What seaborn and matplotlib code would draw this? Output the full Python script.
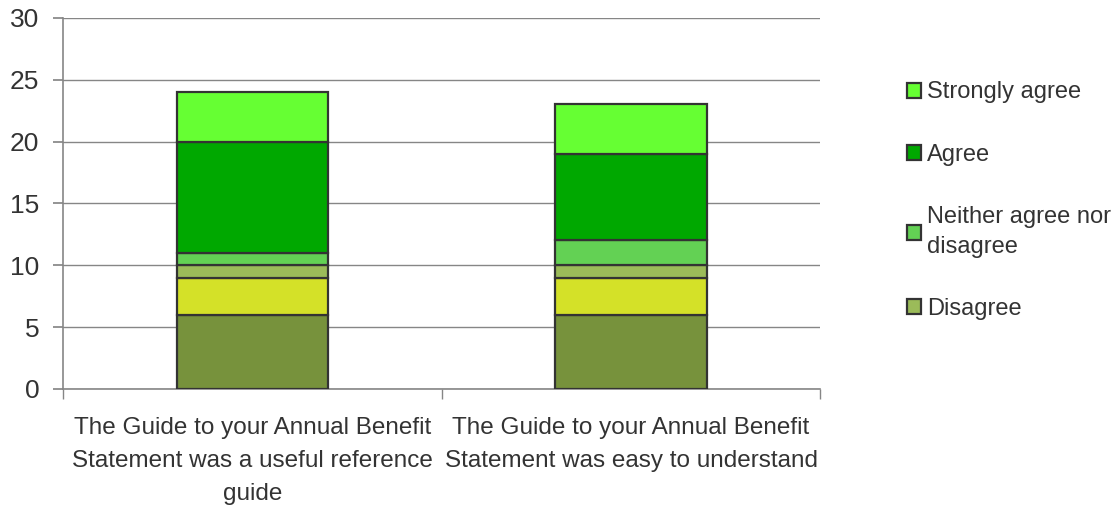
import pandas as pd
import matplotlib.pyplot as plt
import seaborn as sns
from matplotlib.ticker import FixedLocator

# --- data ---
questions = [
    "The Guide to your Annual Benefit\nStatement was a useful reference\nguide",
    "The Guide to your Annual Benefit\nStatement was easy to understand",
]
# bottom-to-top stacking order
segments = ["Strongly disagree", "Don't know", "Disagree",
            "Neither agree nor\ndisagree", "Agree", "Strongly agree"]
strongly_disagree = [6, 6]
dont_know = [3, 3]
disagree = [1, 1]
neither = [1, 2]
agree = [9, 7]
strongly_agree = [4, 4]

SEGMENT_COLORS = ["#77923C", "#D4E128", "#9BBB59", "#63D154", "#00A800", "#66FF33"]
LEGEND_ITEMS = ["Strongly agree", "Agree", "Neither agree nor\ndisagree", "Disagree"]

df = pd.DataFrame(
    [strongly_disagree, dont_know, disagree, neither, agree, strongly_agree],
    index=segments, columns=questions,
).T

sns.set_theme(style="white")
plt.rcParams['font.family'] = ['Liberation Sans', 'DejaVu Sans']
TEXT = "#333333"
GRID = "#868686"

fig = plt.figure(figsize=(11.12, 5.11), dpi=100)
ax = fig.add_axes([0.0567, 0.239, 0.681, 0.726])

bottom = pd.Series(0, index=df.index, dtype=float)
for seg, color in zip(segments, SEGMENT_COLORS):
    sns.barplot(x=df.index, y=df[seg], bottom=bottom.values, color=color,
                saturation=1, width=0.4, edgecolor="#333333", linewidth=1.6,
                label=seg, legend=False, ax=ax, zorder=3)
    bottom += df[seg]

if ax.get_legend() is not None:
    ax.get_legend().remove()

ax.set_ylim(0, 30)
ax.set_xlim(-0.5, 1.5)
ax.set_yticks(range(0, 31, 5))
ax.yaxis.grid(True, color=GRID, linewidth=1)
ax.set_axisbelow(True)
for side in ["top", "right"]:
    ax.spines[side].set_visible(False)
for side in ["left", "bottom"]:
    ax.spines[side].set_color(GRID)
    ax.spines[side].set_linewidth(1.2)

ax.set_xlabel("")
ax.set_ylabel("")
ax.tick_params(axis="y", which="major", direction="out", length=7, color=GRID,
               labelsize=19, labelcolor=TEXT, left=True, pad=10)
ax.tick_params(axis="x", which="major", length=0, labelsize=17.5, labelcolor=TEXT, pad=20)
ax.xaxis.set_minor_locator(FixedLocator([-0.5, 0.5, 1.5]))
ax.tick_params(axis="x", which="minor", direction="out", length=7, color=GRID, bottom=True)
for lbl in ax.get_xticklabels():
    lbl.set_linespacing(1.65)

handles, labels = ax.get_legend_handles_labels()
lookup = dict(zip(labels, handles))
leg = fig.legend([lookup[l] for l in LEGEND_ITEMS], LEGEND_ITEMS,
                 loc="center left", bbox_to_anchor=(0.805, 0.607),
                 frameon=False, fontsize=17, labelcolor=TEXT,
                 handlelength=0.6, handleheight=0.6, handletextpad=0.25,
                 labelspacing=1.7, borderpad=0)
for t in leg.get_texts():
    t.set_linespacing(1.5)

fig.savefig("out.png", dpi=100)
